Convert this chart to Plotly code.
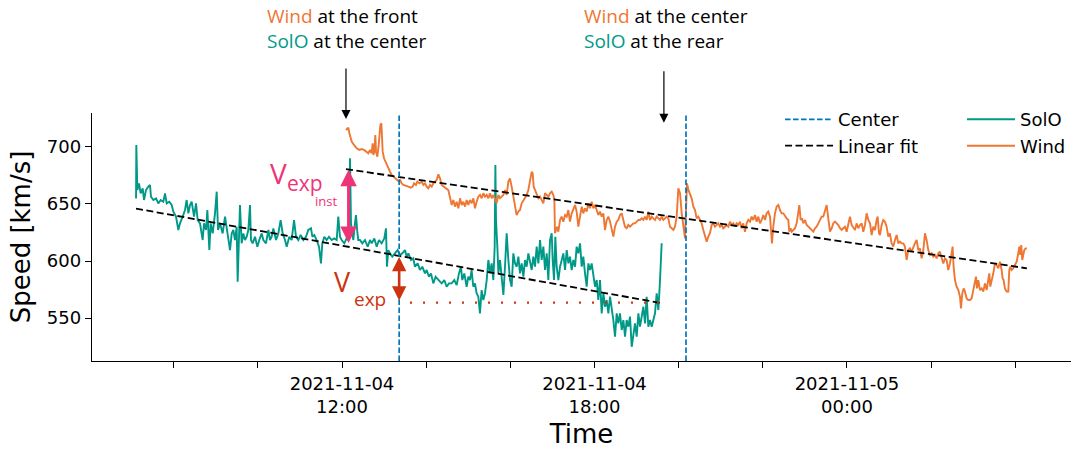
import pandas as pd
import plotly.graph_objects as go

# ---------------- data ----------------
SOLO_T0 = "2021-11-04 07:00"   # solo_minutes are minutes after this
WIND_T0 = "2021-11-04 12:00"   # wind_minutes are minutes after this

solo_minutes = [
    6.3, 6.7, 8.2, 10.5, 12.9, 15.8, 17.7, 20.5, 23.8, 26.2, 27.6, 31.0, 34.8, 38.1, 41.4, 45.2,
    47.6, 50.0, 53.8, 57.1, 59.5, 63.3, 66.6, 69.0, 72.8, 76.1, 78.5, 80.9, 83.3, 85.6, 89.0, 91.8,
    94.2, 97.5, 101.3, 103.2, 106.1, 108.0, 110.8, 112.7, 115.6, 118.9, 121.3, 123.2, 126.0, 129.8,
    133.2, 135.5, 137.9, 140.3, 142.7, 145.0, 147.4, 149.8, 151.2, 152.6, 154.5, 156.9, 159.3, 161.7,
    164.1, 166.4, 168.8, 170.2, 172.6, 175.9, 179.3, 182.1, 185.5, 187.8, 191.6, 195.0, 197.3, 199.7,
    202.1, 205.9, 209.2, 212.5, 215.4, 218.7, 221.1, 224.9, 228.2, 231.6, 234.4, 237.7, 241.1, 244.9,
    248.7, 251.9, 255.8, 257.7, 260.5, 263.8, 267.2, 270.0, 271.9, 274.8, 278.1, 281.4, 285.2, 289.0,
    292.4, 294.7, 297.1, 299.5, 303.3, 306.6, 309.0, 310.4, 311.4, 312.8, 314.7, 316.1, 318.5, 319.9,
    321.8, 323.2, 325.6, 328.9, 332.8, 336.6, 339.9, 342.3, 346.1, 349.4, 352.7, 356.5, 360.3, 362.7,
    364.1, 366.0, 368.4, 371.7, 375.5, 379.3, 382.7, 386.0, 389.8, 392.2, 394.6, 398.4, 401.7, 404.0,
    407.9, 411.2, 414.5, 418.3, 420.7, 424.0, 426.9, 430.2, 433.5, 437.3, 442.1, 445.9, 449.2, 452.5,
    456.3, 460.1, 463.5, 466.8, 469.6, 471.5, 474.4, 477.7, 480.1, 482.5, 484.8, 487.2, 489.6, 492.0,
    494.4, 496.7, 499.1, 501.5, 503.9, 506.3, 508.7, 511.1, 513.4, 515.8, 517.7, 518.7, 519.6, 521.5,
    523.0, 525.3, 527.7, 530.1, 532.4, 534.8, 537.2, 539.6, 541.9, 544.3, 546.7, 549.1, 551.5, 553.8,
    556.2, 558.6, 561.0, 563.3, 565.7, 568.1, 570.5, 572.8, 575.2, 577.6, 580.0, 582.4, 584.7, 587.1,
    589.5, 591.9, 594.2, 596.6, 599.0, 600.4, 602.3, 604.2, 606.1, 608.5, 610.9, 613.3, 615.6, 618.0,
    620.4, 622.8, 625.1, 627.5, 629.9, 632.3, 634.6, 637.0, 639.4, 641.8, 644.1, 646.5, 648.9, 651.3,
    653.6, 656.0, 658.4, 660.8, 663.2, 665.5, 667.9, 670.3, 672.7, 675.0, 677.4, 679.8, 682.2, 684.5,
    686.9, 689.3, 691.7, 694.0, 696.4, 698.8, 701.2, 703.6, 705.9, 708.3, 710.7, 713.1, 715.4, 717.8,
    720.2, 722.6, 724.9, 727.3, 729.7, 732.1, 734.4, 736.8, 739.2, 741.6, 744.0, 746.3, 748.7, 751.1,
    753.5, 755.8,
]
solo_speed = [
    654.9, 701.7, 662.2, 668.1, 659.3, 663.7, 653.5, 662.2, 665.2, 666.6, 656.4, 653.5, 654.9, 650.5, 653.5, 652.0,
    659.3, 650.5, 652.0, 649.1, 643.2, 638.9, 627.2, 633.0, 638.9, 644.7, 653.5, 641.8, 649.1, 652.0, 638.9, 650.5,
    635.9, 633.0, 618.4, 633.0, 627.2, 644.7, 609.6, 633.0, 624.2, 641.8, 660.8, 627.2, 633.0, 624.2,
    638.9, 630.1, 618.4, 609.6, 624.2, 627.2, 618.4, 630.1, 581.8, 618.4, 649.1, 615.5, 624.2, 618.4,
    621.3, 627.2, 649.1, 618.4, 615.5, 621.3, 612.5, 618.4, 624.2, 618.4, 615.5, 627.2, 618.4, 621.3,
    628.6, 618.4, 624.2, 635.9, 624.2, 618.4, 612.5, 621.3, 618.4, 635.9, 621.3, 618.4, 622.8, 618.4,
    621.3, 627.2, 628.6, 621.3, 622.8, 618.4, 612.5, 597.9, 615.5, 621.3, 618.4, 621.3, 618.4, 619.8,
    618.4, 638.9, 621.3, 618.4, 615.5, 619.8, 618.4, 631.5, 690.0, 633.0, 624.2, 618.4, 633.0, 640.3,
    625.7, 618.4, 618.4, 615.5, 618.4, 612.5, 618.4, 615.5, 619.8, 612.5, 618.4, 615.5, 619.8, 628.6,
    595.0, 609.6, 606.7, 603.8, 606.7, 609.6, 605.2, 606.7, 609.6, 603.8, 606.7, 600.8, 602.3, 595.0,
    597.9, 592.1, 595.0, 589.1, 592.1, 586.2, 589.1, 580.4, 586.2, 583.3, 580.4, 583.3, 577.4, 580.4,
    580.4, 583.3, 578.9, 589.1, 595.0, 583.3, 589.1, 577.4, 586.2, 583.3, 592.1, 577.4, 580.4, 571.6,
    568.7, 554.1, 574.5, 565.7, 571.6, 583.3, 600.9, 589.2, 597.9, 583.3, 612.6, 684.2, 636.0, 612.6,
    589.2, 600.9, 583.3, 570.2, 595.0, 624.3, 600.9, 583.3, 577.5, 606.7, 597.9, 595.0, 603.8, 589.2,
    597.9, 586.3, 600.9, 595.0, 606.7, 597.9, 592.1, 603.8, 595.0, 612.6, 597.9, 618.4, 600.9, 612.6,
    592.1, 606.7, 583.3, 618.4, 624.3, 600.9, 583.3, 621.3, 595.0, 583.3, 595.0, 600.9, 606.7, 592.1,
    609.6, 597.9, 603.8, 592.1, 600.9, 595.0, 612.6, 606.7, 615.5, 595.0, 603.8, 589.2, 577.5, 597.9,
    592.1, 597.9, 586.3, 577.5, 583.3, 565.8, 583.3, 554.1, 571.6, 559.9, 565.8, 554.1, 568.7, 559.9,
    548.2, 533.6, 554.1, 545.3, 554.1, 539.5, 548.2, 533.6, 548.2, 542.4, 551.2, 524.8, 536.6, 545.3,
    533.6, 554.1, 542.4, 551.2, 559.9, 545.3, 568.7, 542.4, 548.2, 542.4, 548.2, 554.1, 571.6, 557.0,
    583.3, 615.5,
]

wind_minutes = [
    5.7, 7.6, 9.0, 10.5, 13.8, 17.1, 20.9, 24.7, 28.0, 31.4, 35.2, 37.5, 39.9, 42.3, 43.7, 44.7,
    46.1, 47.5, 48.5, 50.4, 52.3, 53.2, 54.7, 56.1, 57.0, 58.0, 59.9, 61.8, 63.7, 66.1, 68.4, 70.8,
    73.2, 75.6, 77.9, 80.3, 82.7, 85.1, 87.5, 91.3, 94.6, 97.9, 100.8, 102.7, 105.5, 107.4, 110.3,
    113.6, 116.0, 118.4, 120.7, 123.1, 125.5, 127.9, 130.2, 132.6, 135.0, 137.4, 139.7, 142.1, 144.5,
    148.3, 151.6, 154.0, 156.4, 158.8, 161.1, 163.5, 165.9, 168.3, 170.6, 173.0, 175.4, 177.8, 180.1,
    182.5, 184.9, 187.3, 189.6, 192.0, 194.4, 196.8, 199.2, 201.5, 203.9, 206.3, 208.7, 211.0, 213.4,
    215.8, 218.2, 220.5, 222.9, 225.3, 227.7, 230.0, 232.4, 234.8, 237.2, 239.5, 241.9, 244.3, 246.7,
    249.0, 251.4, 253.8, 256.2, 258.6, 261.0, 263.3, 265.7, 268.1, 270.5, 271.9, 273.3, 275.2, 277.6,
    280.0, 282.3, 284.7, 287.1, 289.5, 291.9, 294.2, 296.6, 299.0, 301.4, 302.8, 303.7, 305.2, 306.6,
    308.5, 310.9, 313.2, 315.6, 318.0, 320.4, 322.7, 325.1, 327.5, 329.9, 332.3, 334.6, 337.0, 339.4,
    341.8, 344.1, 346.5, 348.9, 351.3, 353.6, 356.0, 358.4, 360.8, 363.1, 365.5, 367.9, 370.3, 372.7,
    375.0, 377.4, 379.8, 382.2, 384.5, 386.9, 389.3, 391.7, 394.0, 396.4, 398.8, 401.2, 403.5, 405.9,
    408.3, 410.7, 413.1, 415.4, 417.8, 420.2, 422.6, 424.9, 427.3, 429.7, 432.1, 434.4, 436.8, 439.2,
    441.6, 443.9, 446.3, 448.7, 451.1, 453.5, 455.8, 458.2, 460.6, 463.0, 465.3, 467.7, 470.1, 472.5,
    474.8, 477.2, 479.6, 482.0, 484.4, 486.7, 489.1, 490.5, 492.0, 493.9, 496.2, 498.6, 501.0, 503.4,
    505.7, 508.1, 510.5, 512.8, 515.2, 517.6, 520.0, 522.3, 524.7, 527.1, 529.5, 531.8, 534.2, 536.6,
    539.0, 541.4, 543.7, 546.1, 548.5, 550.9, 553.2, 555.6, 558.0, 560.4, 562.7, 565.1, 567.5, 569.9,
    572.2, 574.6, 577.0, 579.4, 581.8, 584.1, 586.5, 588.9, 591.3, 593.6, 596.0, 598.4, 600.8, 603.1,
    605.5, 607.9, 610.3, 611.7, 613.1, 615.0, 617.4, 619.8, 622.2, 624.5, 626.9, 629.3, 631.7, 634.0,
    636.4, 637.8, 639.7, 641.2, 643.5, 645.9, 648.3, 650.7, 652.1, 654.0, 655.9, 657.8, 660.2, 662.6,
    665.0, 667.3, 669.7, 672.1, 674.4, 676.8, 679.2, 681.6, 683.9, 686.3, 688.7, 691.1, 693.4, 695.8,
    698.2, 700.6, 703.0, 705.3, 707.7, 710.1, 712.5, 714.8, 717.2, 719.6, 722.0, 724.3, 726.7, 729.1,
    731.5, 733.8, 736.2, 738.6, 741.0, 743.3, 745.7, 748.1, 750.5, 752.9, 755.2, 757.6, 760.0, 762.3,
    763.8, 765.7, 767.1, 769.5, 771.8, 774.2, 776.6, 779.0, 781.3, 783.7, 786.1, 788.5, 790.9, 793.2,
    795.6, 798.0, 800.4, 802.7, 805.1, 807.5, 809.9, 812.2, 814.6, 817.0, 819.4, 821.7, 824.1, 826.5,
    828.9, 831.3, 833.6, 836.0, 838.4, 840.8, 843.1, 845.5, 847.9, 850.3, 852.6, 855.0, 857.4, 859.8,
    862.1, 864.5, 866.9, 869.3, 870.7, 872.1, 874.0, 876.4, 878.8, 881.2, 882.6, 884.5, 886.4, 888.3,
    890.7, 893.0, 895.4, 897.8, 900.2, 902.5, 904.0, 905.4, 907.3, 909.7, 912.1, 914.4, 916.8, 919.2,
    921.6, 923.0, 924.4, 926.3, 928.7, 931.1, 933.4, 935.8, 938.2, 940.6, 942.0, 943.4, 945.3, 947.7,
    950.1, 951.5, 952.9, 954.8, 957.2, 959.6, 962.0, 964.3, 965.8, 967.2, 968.6, 970.0, 971.5, 972.9,
    974.8, 976.7,
]
wind_speed = [
    714.9, 716.4, 717.0, 712.0, 704.7, 701.8, 698.8, 697.4, 698.2, 697.4, 695.9, 694.5, 697.4, 694.5, 703.2, 693.0,
    695.9, 710.5, 695.9, 691.5, 701.8, 713.5, 719.3, 720.8, 710.5, 695.9, 690.1, 687.1, 684.2, 681.3, 678.4, 675.4,
    674.0, 672.5, 671.1, 670.2, 671.1, 668.1, 666.7, 666.1, 665.2, 664.3, 665.2, 668.1, 666.7, 669.6, 668.1,
    669.6, 666.7, 668.1, 665.2, 663.7, 666.7, 665.2, 668.1, 669.6, 671.1, 676.0, 672.5, 666.7, 665.2,
    663.7, 662.3, 656.4, 649.1, 653.5, 647.7, 652.0, 646.2, 655.0, 649.1, 652.0, 647.7, 653.5, 649.1,
    653.5, 650.6, 655.0, 646.2, 652.0, 656.4, 657.9, 655.0, 659.4, 656.4, 657.9, 655.0, 659.4, 655.0,
    657.9, 653.5, 650.6, 657.9, 655.0, 656.4, 657.9, 662.3, 657.9, 669.6, 672.5, 665.2, 657.9, 649.1,
    640.3, 643.3, 644.7, 650.6, 653.5, 656.4, 657.9, 662.3, 671.1, 678.4, 676.9, 665.2, 662.3, 657.9,
    655.0, 656.4, 653.5, 650.6, 659.4, 657.9, 656.4, 659.4, 660.8, 657.9, 653.5, 624.3, 627.2, 630.1,
    625.7, 636.0, 638.9, 634.5, 640.3, 638.9, 644.7, 634.5, 641.8, 646.2, 649.1, 643.3, 630.1, 638.9,
    647.7, 641.8, 646.2, 643.3, 650.6, 646.2, 652.0, 646.2, 649.1, 644.7, 640.3, 643.3, 638.9, 641.8,
    627.2, 636.0, 638.9, 634.5, 628.7, 621.4, 630.1, 634.5, 636.0, 640.3, 641.8, 636.0, 630.1, 628.7,
    631.6, 630.1, 631.6, 633.0, 633.0, 634.5, 636.0, 636.0, 637.4, 636.0, 638.9, 636.0, 643.3, 636.0,
    638.9, 637.4, 636.0, 638.9, 637.4, 636.0, 638.9, 636.0, 637.4, 638.9, 637.4, 630.1, 628.7, 627.2,
    630.1, 638.9, 663.7, 659.4, 641.8, 630.1, 619.9, 644.7, 668.1, 662.3, 659.4, 655.0, 647.7, 644.7,
    637.4, 638.9, 636.0, 633.0, 627.2, 621.3, 616.9, 621.3, 624.3, 631.6, 633.0, 630.1, 631.6, 633.0,
    630.1, 631.6, 628.7, 630.1, 631.6, 630.1, 634.5, 631.6, 633.0, 630.1, 633.0, 631.6, 634.5, 628.7,
    633.0, 625.7, 633.0, 636.0, 634.5, 638.9, 636.0, 640.3, 634.5, 638.9, 633.0, 636.0, 640.3, 636.0,
    641.8, 643.3, 638.9, 627.2, 615.5, 630.1, 641.8, 647.7, 649.1, 644.7, 641.8, 641.8, 638.9, 637.4,
    636.0, 625.7, 628.7, 625.7, 627.2, 628.7, 633.0, 646.2, 649.1, 636.0, 637.4, 633.0, 636.0, 631.6,
    630.1, 628.7, 627.2, 625.7, 628.7, 630.1, 633.0, 636.0, 638.9, 638.9, 644.7, 649.1, 637.4, 625.7,
    628.7, 633.0, 634.5, 633.0, 631.6, 628.7, 627.2, 628.7, 630.1, 625.7, 631.6, 638.9, 631.6, 628.7,
    627.2, 633.0, 628.7, 631.6, 633.0, 625.7, 631.6, 641.8, 636.0, 633.0, 622.8, 630.1, 627.2, 636.0,
    638.9, 624.3, 622.8, 631.6, 636.0, 634.5, 630.1, 621.3, 624.3, 615.5, 612.6, 618.4, 622.8, 615.5,
    617.0, 615.5, 615.5, 612.6, 600.9, 609.6, 611.1, 608.2, 612.6, 615.5, 618.4, 609.6, 611.1, 602.3,
    609.6, 624.3, 618.4, 609.6, 605.3, 606.7, 603.8, 605.3, 602.3, 606.7, 608.2, 603.8, 597.9, 602.3,
    600.9, 592.1, 597.9, 606.7, 612.6, 595.0, 583.3, 577.5, 574.5, 568.7, 558.5, 571.6, 576.0, 573.1,
    567.2, 565.8, 565.8, 567.2, 574.5, 583.3, 586.3, 576.0, 583.3, 574.5, 576.0, 573.1, 580.4, 574.5,
    586.3, 589.2, 577.5, 581.9, 589.2, 597.9, 596.5, 593.6, 599.4, 592.1, 584.8, 583.3, 576.0, 573.1,
    573.1, 592.1, 595.0, 592.1, 593.6, 596.5, 599.4, 606.7, 612.6, 605.3, 614.0, 600.9, 606.7, 609.6,
    611.1, 611.1,
]

# Linear fits (values at the first and last sample of each series)
solo_fit_speed = [646.0, 563.0]
wind_fit_speed = [680.5, 593.6]

# Centre times of the structure at each spacecraft
center_times = ["2021-11-04 13:21:30", "2021-11-04 20:10:30"]

# Expansion-speed markers
vexp_inst_time = "2021-11-04 12:09:20"
vexp_inst_speeds = [680.0, 614.5]
vexp_time = "2021-11-04 13:21:30"
vexp_speeds = [603.5, 564.0]
vexp_level_times = ["2021-11-04 13:37:00", "2021-11-04 19:36:00"]
vexp_level_speed = 563.5

arrow_times = ["2021-11-04 12:05:40", "2021-11-04 19:39:00"]

x_tick_vals = ["2021-11-04 12:00", "2021-11-04 18:00", "2021-11-05 00:00"]
x_tick_text = ["2021-11-04<br>12:00", "2021-11-04<br>18:00", "2021-11-05<br>00:00"]
y_tick_vals = [550, 600, 650, 700]
x_range = ["2021-11-04 06:03:30", "2021-11-05 05:19:30"]
y_range = [512.3, 729.8]

# ---------------- colours ----------------
C_SOLO = "#009988"
C_WIND = "#EE7733"
C_CENTER = "#0077BB"
C_INST = "#EE3377"
C_VEXP = "#CC3311"

solo_t = pd.Timestamp(SOLO_T0) + pd.to_timedelta(solo_minutes, unit="min")
wind_t = pd.Timestamp(WIND_T0) + pd.to_timedelta(wind_minutes, unit="min")

fig = go.Figure()

fig.add_trace(go.Scatter(x=solo_t, y=solo_speed, mode="lines", name="SolO",
                         line=dict(color=C_SOLO, width=1.9), legend="legend2", legendrank=1))
fig.add_trace(go.Scatter(x=wind_t, y=wind_speed, mode="lines", name="Wind",
                         line=dict(color=C_WIND, width=1.9), legend="legend2", legendrank=2))

fit_x = [solo_t[0], solo_t[-1], None, wind_t[0], wind_t[-1]]
fit_y = [solo_fit_speed[0], solo_fit_speed[1], None, wind_fit_speed[0], wind_fit_speed[1]]
fig.add_trace(go.Scatter(x=fit_x, y=fit_y, mode="lines", name="Linear fit",
                         line=dict(color="black", width=1.8, dash="7px,3.5px"),
                         legend="legend", legendrank=2))

cx = [center_times[0], center_times[0], None, center_times[1], center_times[1]]
cy = [y_range[0], y_range[1], None, y_range[0], y_range[1]]
fig.add_trace(go.Scatter(x=cx, y=cy, mode="lines", name="Center",
                         line=dict(color=C_CENTER, width=1.7, dash="5.5px,2.5px"),
                         legend="legend", legendrank=1))

fig.add_trace(go.Scatter(x=vexp_level_times, y=[vexp_level_speed] * 2, mode="lines",
                         showlegend=False, line=dict(color=C_VEXP, width=2.2, dash="2px,11px")))

annotations = []
# double arrows
annotations.append(dict(x=vexp_inst_time, y=vexp_inst_speeds[0], ax=vexp_inst_time, ay=vexp_inst_speeds[1],
                        xref="x", yref="y", axref="x", ayref="y", text="", showarrow=True,
                        arrowside="end+start", arrowhead=2, startarrowhead=2, arrowsize=1.1,
                        startarrowsize=1.1, arrowwidth=3, arrowcolor=C_INST))
annotations.append(dict(x=vexp_time, y=vexp_speeds[0], ax=vexp_time, ay=vexp_speeds[1],
                        xref="x", yref="y", axref="x", ayref="y", text="", showarrow=True,
                        arrowside="end+start", arrowhead=2, startarrowhead=2, arrowsize=1.1,
                        startarrowsize=1.1, arrowwidth=2.6, arrowcolor=C_VEXP))
# black pointer arrows
for t, yp, ay in [(arrow_times[0], 0.9758, -52), (arrow_times[1], 0.961, -53)]:
    annotations.append(dict(x=t, y=yp, xref="x", yref="paper", ax=0, ay=ay, text="",
                            showarrow=True, arrowhead=2, arrowsize=1.5, arrowwidth=1.2,
                            arrowcolor="black"))
# top texts
annotations.append(dict(x="2021-11-04 10:10", y=1.452, xref="x", yref="paper", xanchor="left",
                        yanchor="top", align="left", showarrow=False,
                        font=dict(family="Open Sans", size=19, color="black"),
                        text=f'<span style="color:{C_WIND}">Wind</span> at the front<br>'
                             f'<span style="color:{C_SOLO}">SolO</span> at the center'))
annotations.append(dict(x="2021-11-04 17:41:50", y=1.452, xref="x", yref="paper", xanchor="left",
                        yanchor="top", align="left", showarrow=False,
                        font=dict(family="Open Sans", size=19, color="black"),
                        text=f'<span style="color:{C_WIND}">Wind</span> at the center<br>'
                             f'<span style="color:{C_SOLO}">SolO</span> at the rear'))
# V labels
def lab(t, v, txt, size, color):
    return dict(x=t, y=v, xref="x", yref="y", xanchor="left", yanchor="middle", text=txt,
                showarrow=False, font=dict(family="Open Sans", size=size, color=color))

annotations.append(lab("2021-11-04 10:15", 677.5, "V", 28, C_INST))
annotations.append(lab("2021-11-04 10:39", 668.5, "exp", 21, C_INST))
annotations.append(lab("2021-11-04 11:19", 653.0, "inst", 13, C_INST))
annotations.append(lab("2021-11-04 11:46", 582.0, "V", 27, C_VEXP))
annotations.append(lab("2021-11-04 12:14", 567.0, "exp", 19, C_VEXP))

fig.update_layout(
    width=1071, height=451,
    margin=dict(l=92, r=0, t=113, b=90),
    paper_bgcolor="white", plot_bgcolor="white",
    font=dict(family="DejaVu Sans", size=18, color="black"),
    showlegend=True,
    legend=dict(x=0.7028, y=1.048, xanchor="left", yanchor="top", bgcolor="rgba(0,0,0,0)",
                font=dict(size=18), traceorder="normal", itemwidth=48),
    legend2=dict(x=0.8887, y=1.048, xanchor="left", yanchor="top", bgcolor="rgba(0,0,0,0)",
                 font=dict(size=18), traceorder="normal", itemwidth=48),
    annotations=annotations,
)
fig.update_xaxes(
    type="date", range=x_range, showgrid=False, zeroline=False,
    showline=True, linecolor="black", linewidth=1.4,
    tickmode="array", tickvals=x_tick_vals, ticktext=x_tick_text,
    ticks="outside", ticklen=6, tickwidth=1.2, tickcolor="black",
    tickfont=dict(size=18),
    minor=dict(dtick=2 * 3600 * 1000, tick0="2021-11-04 00:00", ticks="outside", ticklen=6,
               tickwidth=1.2, tickcolor="black", showgrid=False),
    title=dict(text="Time", font=dict(size=26), standoff=8),
)
fig.update_yaxes(
    range=y_range, showgrid=False, zeroline=False,
    showline=True, linecolor="black", linewidth=1.4,
    tickmode="array", tickvals=y_tick_vals,
    ticks="outside", ticklen=6, tickwidth=1.2, tickcolor="black",
    tickfont=dict(size=18),
    title=dict(text="Speed [km/s]", font=dict(size=26), standoff=8),
)

fig.write_html("out.html")
